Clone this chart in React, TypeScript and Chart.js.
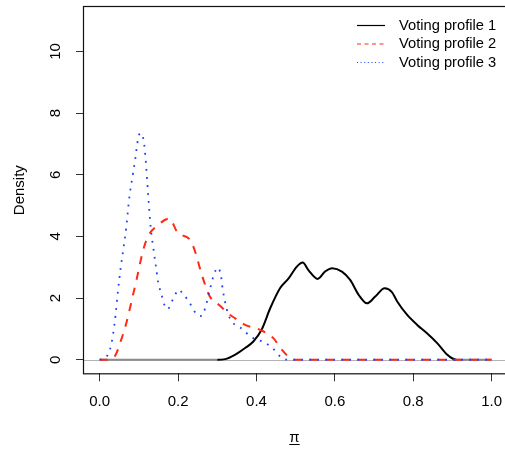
import React, { useEffect, useRef } from "react";
import { Chart, registerables } from "chart.js";

Chart.register(...registerables);

const FONT = "'Liberation Sans', Arial, Helvetica, sans-serif";

const seriesLabels = ["Voting profile 1", "Voting profile 2", "Voting profile 3"];
const xTicks = [0, 0.2, 0.4, 0.6, 0.8, 1.0];
const yTicks = [0, 2, 4, 6, 8, 10];
const xTitle = "π";
const yTitle = "Density";

// Voting profile 1 (black, solid)
const profile1X = [0, 0.3, 0.32, 0.345, 0.371, 0.392, 0.413, 0.435, 0.46, 0.482, 0.503, 0.518, 0.533, 0.556, 0.575, 0.593, 0.618, 0.639, 0.661, 0.682, 0.703, 0.727, 0.745, 0.759, 0.784, 0.81, 0.835, 0.861, 0.887, 0.9, 0.91, 1.0];
const profile1Y = [0, 0, 0.02, 0.16, 0.38, 0.59, 0.97, 1.67, 2.32, 2.64, 3.02, 3.15, 2.9, 2.62, 2.86, 2.97, 2.86, 2.59, 2.1, 1.83, 2.05, 2.32, 2.2, 1.89, 1.46, 1.13, 0.86, 0.54, 0.16, 0.04, 0, 0];

// Voting profile 2 (red, dashed)
const profile2X = [0, 0.02, 0.038, 0.055, 0.068, 0.085, 0.094, 0.102, 0.111, 0.124, 0.149, 0.177, 0.2, 0.23, 0.245, 0.257, 0.269, 0.281, 0.307, 0.332, 0.345, 0.371, 0.409, 0.443, 0.465, 0.49, 0.5, 1.0];
const profile2Y = [0, 0, 0.1, 0.65, 1.19, 2.1, 2.59, 3.07, 3.56, 4.02, 4.37, 4.58, 4.1, 3.9, 3.45, 2.91, 2.43, 2.05, 1.75, 1.46, 1.35, 1.13, 0.97, 0.7, 0.32, 0.02, 0, 0];

// Voting profile 3 (blue, dotted)
const profile3X = [0, 0.013, 0.026, 0.034, 0.041, 0.047, 0.054, 0.06, 0.068, 0.075, 0.085, 0.091, 0.096, 0.1, 0.105, 0.109, 0.113, 0.117, 0.124, 0.13, 0.136, 0.143, 0.149, 0.158, 0.165, 0.173, 0.19, 0.202, 0.213, 0.226, 0.247, 0.26, 0.269, 0.281, 0.29, 0.301, 0.309, 0.314, 0.324, 0.332, 0.345, 0.358, 0.375, 0.392, 0.409, 0.426, 0.443, 0.456, 0.469, 0.48, 1.0];
const profile3Y = [0, 0.05, 0.32, 0.81, 1.51, 2.27, 3.02, 3.56, 4.31, 5.2, 6.04, 6.53, 7.01, 7.28, 7.35, 7.29, 7.04, 6.53, 5.29, 4.31, 3.7, 3.07, 2.53, 2.1, 1.78, 1.64, 2.05, 2.27, 2.12, 1.92, 1.48, 1.42, 1.67, 2.27, 2.7, 2.99, 2.75, 2.27, 1.65, 1.35, 1.13, 1.05, 0.86, 0.7, 0.62, 0.52, 0.35, 0.16, 0.03, 0, 0];

const colors = ["#000000", "#ff2a12", "#2040ff"];
const plotDash = [[], [8, 8], [1.8, 6.2]];
const legendDash = [[], [4, 3.5], [1, 2.6]];

const toPoints = (xs: number[], ys: number[]) => xs.map((x, i) => ({ x, y: ys[i] }));

const decor = {
  id: "decor",
  beforeDatasetsDraw(chart: any) {
    const { ctx, chartArea: a, scales } = chart;
    const y0 = Math.round(scales.y.getPixelForValue(0)) + 0.5;
    ctx.save();
    ctx.strokeStyle = "#b4b4b4";
    ctx.lineWidth = 1;
    ctx.beginPath();
    ctx.moveTo(a.left, y0);
    ctx.lineTo(a.right, y0);
    ctx.stroke();
    ctx.restore();
  },
  afterDraw(chart: any) {
    const { ctx, chartArea: a, scales } = chart;
    ctx.save();
    // box
    ctx.strokeStyle = "#111";
    ctx.lineWidth = 1.2;
    ctx.strokeRect(a.left - 0.5, a.top - 0.5, a.right - a.left + 2, a.bottom - a.top + 1);
    // y tick labels (rotated, as in R)
    ctx.fillStyle = "#000";
    ctx.font = `15px ${FONT}`;
    ctx.textAlign = "center";
    ctx.textBaseline = "middle";
    yTicks.forEach((v) => {
      const py = scales.y.getPixelForValue(v);
      ctx.save();
      ctx.translate(a.left - 27.7, py);
      ctx.rotate(-Math.PI / 2);
      ctx.fillText(String(v), 0, 0);
      ctx.restore();
    });
    // legend
    const ds = chart.data.datasets;
    ds.forEach((d: any, i: number) => {
      const y = a.top + 18.5 + i * 18.5;
      ctx.setLineDash(legendDash[i]);
      ctx.strokeStyle = colors[i];
      ctx.lineWidth = 1.2;
      ctx.beginPath();
      ctx.moveTo(a.right - 148, y);
      ctx.lineTo(a.right - 120, y);
      ctx.stroke();
      ctx.setLineDash([]);
      ctx.fillStyle = "#000";
      ctx.font = `14.7px ${FONT}`;
      ctx.textAlign = "left";
      ctx.textBaseline = "middle";
      ctx.fillText(d.label, a.right - 106, y);
    });
    // x title (underlined pi)
    const cx = (a.left + a.right) / 2;
    ctx.font = `15px ${FONT}`;
    ctx.textAlign = "center";
    ctx.textBaseline = "alphabetic";
    ctx.fillStyle = "#000";
    ctx.fillText(xTitle, cx, 442);
    const w = ctx.measureText(xTitle).width;
    ctx.strokeStyle = "#000";
    ctx.lineWidth = 1;
    ctx.beginPath();
    ctx.moveTo(cx - w / 2, 444.5);
    ctx.lineTo(cx + w / 2, 444.5);
    ctx.stroke();
    ctx.restore();
  },
};

export default function App() {
  const ref = useRef<HTMLCanvasElement | null>(null);
  useEffect(() => {
    if (!ref.current) return;
    const chart = new Chart(ref.current, {
      type: "line",
      data: {
        datasets: [
          {
            label: seriesLabels[0],
            data: toPoints(profile1X, profile1Y),
            borderColor: colors[0],
            borderWidth: 2,
            borderDash: plotDash[0],
            pointRadius: 0,
            cubicInterpolationMode: "monotone",
            order: 3,
            segment: {
              borderColor: (c: any) => (c.p0.parsed.y === 0 && c.p1.parsed.y === 0 ? "#8c8c8c" : colors[0]),
            },
          },
          {
            label: seriesLabels[1],
            data: toPoints(profile2X, profile2Y),
            borderColor: colors[1],
            borderWidth: 2,
            borderDash: plotDash[1],
            pointRadius: 0,
            cubicInterpolationMode: "monotone",
            order: 2,
          },
          {
            label: seriesLabels[2],
            data: toPoints(profile3X, profile3Y),
            borderColor: colors[2],
            borderWidth: 1.8,
            borderDash: plotDash[2],
            pointRadius: 0,
            cubicInterpolationMode: "monotone",
            order: 1,
          },
        ] as any,
      },
      options: {
        animation: false,
        responsive: false,
        maintainAspectRatio: false,
        layout: { padding: { top: 7, left: 0, right: 0, bottom: 0 } },
        plugins: { legend: { display: false }, tooltip: { enabled: false } },
        scales: {
          x: {
            type: "linear",
            min: -0.04,
            max: 1.034,
            afterBuildTicks: (s: any) => {
              s.ticks = xTicks.map((v) => ({ value: v }));
            },
            afterFit: (s: any) => {
              s.height = 77.7;
              s.paddingLeft = 0;
              s.paddingRight = 0;
            },
            grid: { drawOnChartArea: false, drawTicks: true, tickLength: 8, color: "#333", lineWidth: 1 },
            border: { display: false },
            ticks: {
              autoSkip: false,
              minRotation: 0,
              maxRotation: 0,
              padding: 12,
              color: "#000",
              font: { family: FONT, size: 15 },
              callback: (v: any) => Number(v).toFixed(1),
            },
          },
          y: {
            type: "linear",
            min: -0.44,
            max: 11.44,
            afterBuildTicks: (s: any) => {
              s.ticks = yTicks.map((v) => ({ value: v }));
            },
            afterFit: (s: any) => {
              s.width = 84;
              s.paddingTop = 0;
              s.paddingBottom = 0;
            },
            grid: { drawOnChartArea: false, drawTicks: true, tickLength: 8, color: "#333", lineWidth: 1 },
            border: { display: false },
            ticks: {
              display: false,
            },
            title: {
              display: true,
              text: yTitle,
              color: "#000",
              font: { family: FONT, size: 15 },
              padding: { top: 10.7, bottom: 0 },
            },
          },
        },
      } as any,
      plugins: [decor],
    });
    return () => chart.destroy();
  }, []);
  return (
    <div style={{ position: "absolute", left: 0, top: 0, width: 505, height: 451 }}>
      <canvas ref={ref} width={505} height={451} />
    </div>
  );
}
